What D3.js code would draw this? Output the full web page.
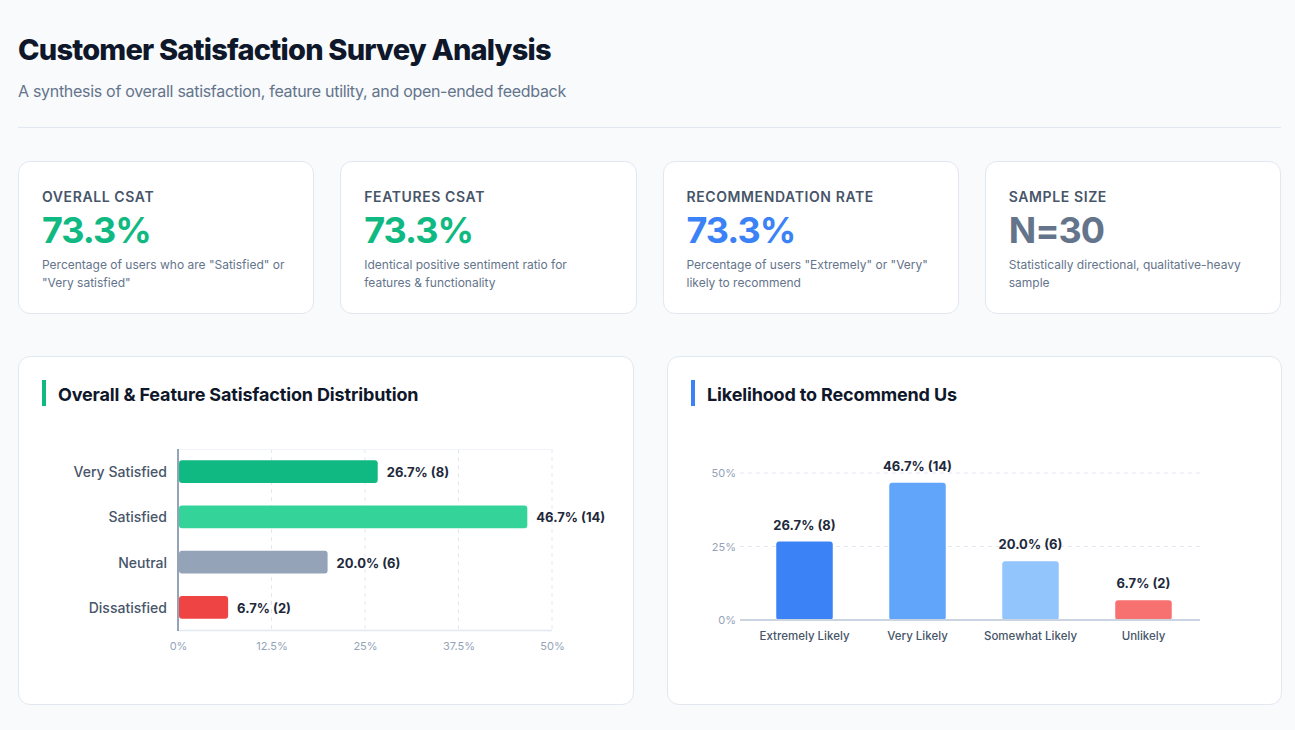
<!DOCTYPE html>
<html>
<head>
<meta charset="utf-8">
<script src="https://cdn.jsdelivr.net/npm/d3@7"></script>
<style>
  body { margin: 0; background: #f8fafc; font-family: Inter, "Noto Sans", sans-serif; }
  #page { position: relative; width: 1295px; height: 730px; overflow: hidden; }
  h1 { position: absolute; left: 18px; top: 30px; margin: 0; font-size: 29px; font-weight: 800; color: #0f172a; letter-spacing: -0.8px; line-height: 40px; }
  .sub { position: absolute; left: 18px; top: 80px; margin: 0; font-size: 16px; color: #64748b; line-height: 22px; letter-spacing: -0.3px; }
  .rule { position: absolute; left: 18px; top: 127px; width: 1263px; height: 1px; background: #e2e8f0; }
  .kpi { position: absolute; top: 161px; width: 296.25px; height: 153px; background: #fff; border: 1px solid #e2e8f0; border-radius: 12px; box-sizing: border-box; padding: 0 23px; }
  .kpi .lab { margin-top: 27px; font-size: 14px; font-weight: 600; letter-spacing: 0.6px; color: #475569; text-transform: uppercase; line-height: 16px; }
  .kpi .val { margin-top: 5px; font-size: 36px; font-weight: 700; line-height: 40px; letter-spacing: -1px; }
  .kpi .desc { margin-top: 6px; font-size: 12px; color: #64748b; line-height: 18px; }
  .card { position: absolute; top: 356px; height: 349px; background: #fff; border: 1px solid #e2e8f0; border-radius: 12px; box-sizing: border-box; }
  .card svg { position: absolute; left: -1px; top: -1px; }
</style>
</head>
<body>
<div id="page">
  <h1>Customer Satisfaction Survey Analysis</h1>
  <p class="sub">A synthesis of overall satisfaction, feature utility, and open-ended feedback</p>
  <div class="rule"></div>
  <div id="kpis"></div>
  <div class="card" id="left" style="left:18px;width:616px"></div>
  <div class="card" id="right" style="left:667px;width:615px"></div>
</div>
<script>
// KPI cards
const kpiLabels = ['Overall CSAT', 'Features CSAT', 'Recommendation Rate', 'Sample Size'];
const kpiValues = ['73.3%', '73.3%', '73.3%', 'N=30'];
const kpiDescs = [
  'Percentage of users who are "Satisfied" or "Very satisfied"',
  'Identical positive sentiment ratio for features & functionality',
  'Percentage of users "Extremely" or "Very" likely to recommend',
  'Statistically directional, qualitative-heavy sample'
];
const kpiColors = ['#10b981', '#10b981', '#3b82f6', '#64748b'];
const kpiLeft = [18, 340.25, 662.5, 984.75];

// satisfaction distribution
const satCategories = ['Very Satisfied', 'Satisfied', 'Neutral', 'Dissatisfied'];
const satPercent = [26.7, 46.7, 20.0, 6.7];
const satCounts = [8, 14, 6, 2];
const satColors = ['#10b981', '#34d399', '#94a3b8', '#ef4444'];
const satTicks = [0, 12.5, 25, 37.5, 50];

// recommendation
const recCategories = ['Extremely Likely', 'Very Likely', 'Somewhat Likely', 'Unlikely'];
const recPercent = [26.7, 46.7, 20.0, 6.7];
const recCounts = [8, 14, 6, 2];
const recColors = ['#3b82f6', '#60a5fa', '#93c5fd', '#f87171'];
const recTicks = [0, 25, 50];

const kpi = d3.select('#kpis').selectAll('div')
  .data(kpiLabels)
  .enter()
  .append('div')
  .attr('class', 'kpi')
  .style('left', (d, i) => kpiLeft[i] + 'px');
kpi.append('div').attr('class', 'lab').text(d => d);
kpi.append('div').attr('class', 'val')
  .style('color', (d, i) => kpiColors[i])
  .text((d, i) => kpiValues[i]);
kpi.append('div').attr('class', 'desc').text((d, i) => kpiDescs[i]);

function cardTitle(svg, text, color) {
  svg.append('rect')
    .attr('x', 24).attr('y', 24)
    .attr('width', 4).attr('height', 26)
    .attr('fill', color);
  svg.append('text')
    .attr('x', 40).attr('y', 45)
    .attr('font-size', 18)
    .attr('font-weight', 700)
    .attr('letter-spacing', -0.15)
    .attr('fill', '#0f172a')
    .text(text);
}

// ---------- left: horizontal bars ----------
{
  const w = 616, h = 349;
  const svg = d3.select('#left').append('svg').attr('width', w).attr('height', h);
  cardTitle(svg, 'Overall & Feature Satisfaction Distribution', '#10b981');

  const x = d3.scaleLinear().domain([0, 50]).range([160, 534]);
  const y = d3.scaleBand().domain(satCategories).range([93, 274])
    .paddingInner(0.5).paddingOuter(0.25);

  // grid
  svg.append('g').selectAll('line')
    .data(satTicks.slice(1))
    .enter().append('line')
    .attr('x1', d => x(d)).attr('x2', d => x(d))
    .attr('y1', 93).attr('y2', 274)
    .attr('stroke', '#e2e8f0').attr('stroke-dasharray', '4,4');
  svg.append('line')
    .attr('x1', 160).attr('x2', 534).attr('y1', 93.5).attr('y2', 93.5)
    .attr('stroke', '#f1f5f9');
  svg.append('line')
    .attr('x1', 160).attr('x2', 534).attr('y1', 274.5).attr('y2', 274.5)
    .attr('stroke', '#e2e8f0').attr('stroke-width', 1.5);

  const xAxis = d3.axisBottom(x).tickValues(satTicks).tickSize(0).tickPadding(11)
    .tickFormat(d => d + '%');
  svg.append('g')
    .attr('transform', 'translate(0,275)')
    .call(xAxis)
    .call(g => g.select('.domain').remove())
    .selectAll('text')
    .attr('font-family', 'Inter').attr('font-size', 11).attr('fill', '#94a3b8');

  const yAxis = d3.axisLeft(y).tickSize(0).tickPadding(11);
  svg.append('g')
    .attr('transform', 'translate(160,1)')
    .call(yAxis)
    .call(g => g.select('.domain').remove())
    .selectAll('text')
    .attr('font-family', 'Inter').attr('font-size', 14).attr('font-weight', 500)
    .attr('fill', '#475569');

  svg.append('g').selectAll('path')
    .data(satPercent)
    .enter().append('rect')
    .attr('x', x(0) + 1)
    .attr('y', (d, i) => y(satCategories[i]))
    .attr('width', d => x(d) - x(0) - 1)
    .attr('height', y.bandwidth())
    .attr('rx', 3)
    .attr('fill', (d, i) => satColors[i]);

  svg.append('line')
    .attr('x1', 160).attr('x2', 160).attr('y1', 93).attr('y2', 275)
    .attr('stroke', '#94a3b8').attr('stroke-width', 2);

  svg.append('g').selectAll('text')
    .data(satPercent)
    .enter().append('text')
    .attr('x', d => x(d) + 9)
    .attr('y', (d, i) => y(satCategories[i]) + y.bandwidth() / 2 + 1)
    .attr('dy', '0.35em')
    .attr('font-size', 13).attr('font-weight', 700).attr('fill', '#1e293b')
    .text((d, i) => d.toFixed(1) + '% (' + satCounts[i] + ')');
}

// ---------- right: vertical bars ----------
{
  const w = 615, h = 349;
  const svg = d3.select('#right').append('svg').attr('width', w).attr('height', h);
  cardTitle(svg, 'Likelihood to Recommend Us', '#3b82f6');

  const x = d3.scaleBand().domain(recCategories).range([81, 533])
    .paddingInner(0.5).paddingOuter(0.25);
  const y = d3.scaleLinear().domain([0, 50]).range([264, 117]);

  svg.append('g').selectAll('line')
    .data(recTicks.slice(1))
    .enter().append('line')
    .attr('x1', 73).attr('x2', 533)
    .attr('y1', d => y(d)).attr('y2', d => y(d))
    .attr('stroke', '#e2e8f0').attr('stroke-dasharray', '4,4');

  const yAxis = d3.axisLeft(y).tickValues(recTicks).tickSize(0).tickPadding(0)
    .tickFormat(d => d + '%');
  svg.append('g')
    .attr('transform', 'translate(69,0)')
    .call(yAxis)
    .call(g => g.select('.domain').remove())
    .selectAll('text')
    .attr('font-family', 'Inter').attr('font-size', 11).attr('fill', '#94a3b8');

  svg.append('g').selectAll('rect')
    .data(recPercent)
    .enter().append('rect')
    .attr('x', (d, i) => x(recCategories[i]))
    .attr('y', d => y(d))
    .attr('width', x.bandwidth())
    .attr('height', d => y(0) - y(d))
    .attr('rx', 3)
    .attr('fill', (d, i) => recColors[i]);

  svg.append('line')
    .attr('x1', 73).attr('x2', 533).attr('y1', y(0)).attr('y2', y(0))
    .attr('stroke', '#cbd5e1').attr('stroke-width', 2);

  const xAxis = d3.axisBottom(x).tickSize(0).tickPadding(12);
  svg.append('g')
    .attr('transform', `translate(0,${y(0)})`)
    .call(xAxis)
    .call(g => g.select('.domain').remove())
    .selectAll('text')
    .attr('font-family', 'Inter').attr('font-size', 11.5).attr('font-weight', 500)
    .attr('fill', '#475569');

  svg.append('g').selectAll('text')
    .data(recPercent)
    .enter().append('text')
    .attr('x', (d, i) => x(recCategories[i]) + x.bandwidth() / 2)
    .attr('y', d => y(d) - 12)
    .attr('text-anchor', 'middle')
    .attr('font-size', 13).attr('font-weight', 700).attr('fill', '#1e293b')
    .text((d, i) => d.toFixed(1) + '% (' + recCounts[i] + ')');
}
</script>
</body>
</html>
